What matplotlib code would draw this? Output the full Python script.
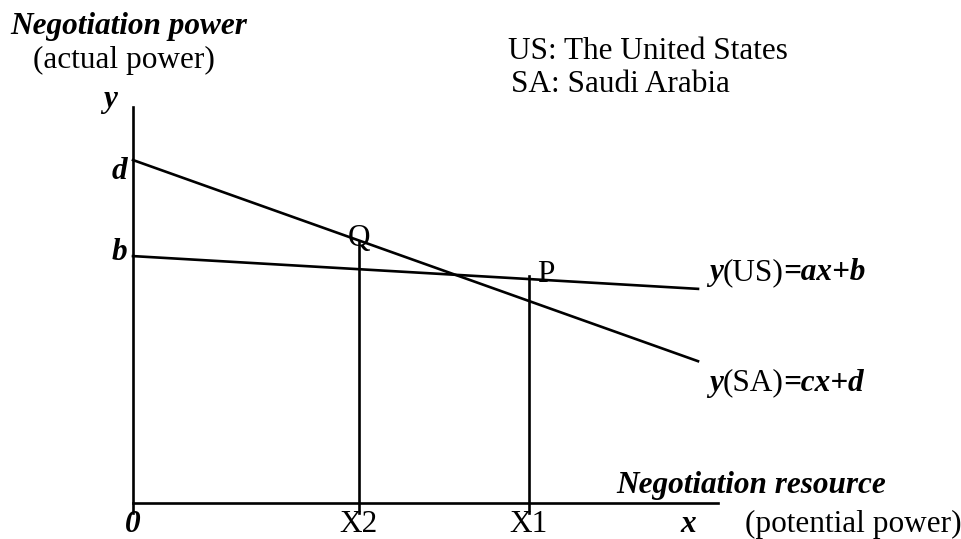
import matplotlib.pyplot as plt
import numpy as np

# line parameters (x axis runs 0..10)
x_end = 10.0
a, b = -0.058, 4.37   # y(US) = ax + b
c, d = -0.356, 6.07   # y(SA) = cx + d
x2, x1 = 4.0, 7.0     # X2 and X1 on the resource axis
x2_top, x1_top = 4.62, 4.02
y_top = 7.0
stub = -0.18

serif = 'Liberation Serif'
fs = 22.5

fig = plt.figure(figsize=(9.62, 5.39), dpi=100)
ax = fig.add_axes([0, 0, 1, 1])
ax.set_xlim(-133 / 56.5, 829 / 56.5)
ax.set_ylim(-36 / 56.5, 503 / 56.5)
ax.axis('off')

lw = 1.9
xs = np.array([0, x_end])
ax.plot([0, 0], [stub, y_top], color='black', lw=lw)
ax.plot([0, x_end * 1.035], [0, 0], color='black', lw=lw)
ax.plot(xs, a * xs + b, color='black', lw=lw)
ax.plot(xs, c * xs + d, color='black', lw=lw)
ax.plot([x2, x2], [stub, x2_top], color='black', lw=lw)
ax.plot([x1, x1], [stub, x1_top], color='black', lw=lw)

bi = dict(family=serif, style='italic', weight='bold', fontsize=fs)
rm = dict(family=serif, fontsize=fs)


def px(x, y):
    # pixel position in the picture -> data coords
    return ((x - 133) / 56.5, (503 - y) / 56.5)


ax.text(*px(10, 34), 'Negotiation power', ha='left', va='baseline', **bi)
ax.text(*px(33, 68), '(actual power)', ha='left', va='baseline', **rm)
ax.text(*px(508, 59), 'US: The United States', ha='left', va='baseline', **rm)
ax.text(*px(511, 92), 'SA: Saudi Arabia', ha='left', va='baseline', **rm)
ax.text(*px(110, 107), 'y', ha='center', va='baseline', **bi)
ax.text(-0.1, d - 0.33, 'd', ha='right', va='baseline', **bi)
ax.text(-0.1, b - 0.07, 'b', ha='right', va='baseline', **bi)
ax.text(x2, c * x2 + d - 0.1, 'Q', ha='center', va='baseline', **rm)
ax.text(x1 + 0.15, a * x1 + b - 0.06, 'P', ha='left', va='baseline', **rm)
ax.text(0, -0.51, '0', ha='center', va='baseline', **bi)
ax.text(x2, -0.51, 'X2', ha='center', va='baseline', **rm)
ax.text(x1, -0.51, 'X1', ha='center', va='baseline', **rm)
ax.text(*px(688, 532), 'x', ha='center', va='baseline', **bi)
ax.text(*px(745, 532), '(potential power)', ha='left', va='baseline', **rm)
ax.text(*px(616, 493), 'Negotiation resource', ha='left', va='baseline', **bi)


def eq(x, y, parts):
    # write mixed bold-italic / roman pieces one after another
    t = ax.text(x, y, parts[0][0], ha='left', va='baseline', **parts[0][1])
    for s, props in parts[1:]:
        t = ax.annotate(s, xy=(1, 0), xycoords=t, ha='left', va='bottom', **props)


eq(x_end + 0.19, a * x_end + b + 0.16,
   [('y', bi), ('(US)', rm), ('=ax+b', bi)])
eq(x_end + 0.19, c * x_end + d - 0.52,
   [('y', bi), ('(SA)', rm), ('=cx+d', bi)])

fig.savefig('out.png', dpi=100)
